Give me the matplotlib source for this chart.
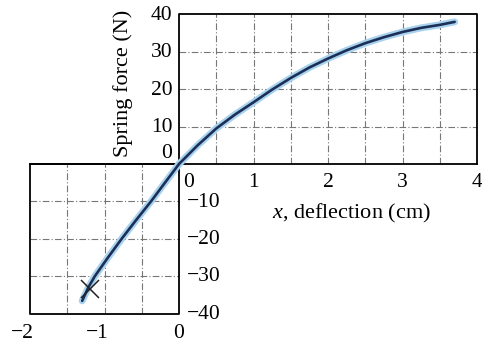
import matplotlib.pyplot as plt

plt.rcParams['font.family'] = ['Liberation Serif', 'DejaVu Serif']
plt.rcParams['mathtext.fontset'] = 'custom'
plt.rcParams['mathtext.it'] = 'Liberation Serif:italic'
plt.rcParams['mathtext.rm'] = 'Liberation Serif'

# spring force curve
x_pos = [0, 0.25, 0.5, 0.75, 1.0, 1.25, 1.5, 1.75, 2.0, 2.25, 2.5, 2.75, 3.0, 3.25, 3.5, 3.7]
f_pos = [0, 5.0, 9.5, 13.2, 16.5, 19.9, 23.0, 25.8, 28.2, 30.4, 32.3, 33.9, 35.3, 36.4, 37.2, 38.0]
x_neg = [0, -0.2, -0.376, -0.58, -0.77, -0.95, -1.13, -1.22, -1.3]
f_neg = [0, -5.3, -10.0, -15.1, -20.0, -24.9, -30.0, -33.1, -36.6]
x_mark = [-1.2]
f_mark = [-33.3]

xticks_pos = [0, 1, 2, 3, 4]
xticks_neg = [-2, -1, 0]
yticks_pos = [0, 10, 20, 30, 40]
yticks_neg = [-10, -20, -30, -40]
xgrid_pos = [0.5, 1, 1.5, 2, 2.5, 3, 3.5]
xgrid_neg = [-1.5, -1, -0.5]
ygrid_pos = [10, 20, 30]
ygrid_neg = [-10, -20, -30]

fig = plt.figure(figsize=(4.82, 3.41), dpi=100)
ax = fig.add_axes([0, 0, 1, 1])
ax.set_xlim(-2.403, 4.067)
ax.set_ylim(-47.33, 43.85)
ax.axis('off')

gs = dict(color='#777777', lw=0.8, ls=(0, (6, 2, 1, 2)), zorder=1)
for g in xgrid_pos:
    ax.plot([g, g], [0, 40], **gs)
for g in ygrid_pos:
    ax.plot([0, 4], [g, g], **gs)
for g in xgrid_neg:
    ax.plot([g, g], [-40, 0], **gs)
for g in ygrid_neg:
    ax.plot([-2, 0], [g, g], **gs)

# the two boxes
bs = dict(color='black', lw=1.3, zorder=2)
ax.plot([0, 0, 4, 4], [0, 40, 40, 0], **bs)
ax.plot([-2, 4], [0, 0], **bs)
ax.plot([0, -2, -2, 0, 0], [0, 0, -40, -40, 0], **bs)

# curve with a light halo
for xs, fs in [(x_pos, f_pos), (x_neg, f_neg)]:
    ax.plot(xs, fs, color='#a9d2ee', lw=5, solid_capstyle='round', solid_joinstyle='round', zorder=3)
    ax.plot(xs, fs, color='#1b2f57', lw=1.9, solid_capstyle='round', solid_joinstyle='round', zorder=4)
ax.plot(x_mark, f_mark, 'x', color='#222222', ms=13, mew=1.1, zorder=5)

fs_t = 15.5
for v in yticks_pos:
    yy = v if v > 0 else 3.1
    ax.text(-0.09, yy - 0.3, str(v), ha='right', va='center', fontsize=fs_t)
for v in yticks_neg:
    ax.text(0.11, v - 0.2, '\u2212' + str(-v), ha='left', va='center', fontsize=fs_t)
for v in xticks_pos:
    xx = v if v > 0 else 0.13
    ax.text(xx, -5.0, str(v), ha='center', va='center', fontsize=fs_t)
for v in xticks_neg:
    lab = '\u2212' + str(-v) if v < 0 else str(v)
    xx = v - 0.1 if v < 0 else v
    ax.text(xx, -45.2, lab, ha='center', va='center', fontsize=fs_t)

ax.text(-0.75, 21.6, 'Spring force (N)', rotation=90, ha='center', va='center', fontsize=16)
ax.text(2.32, -13.1, r'$x$, deflection (cm)', ha='center', va='center', fontsize=16)

plt.savefig('out.png', dpi=100)
